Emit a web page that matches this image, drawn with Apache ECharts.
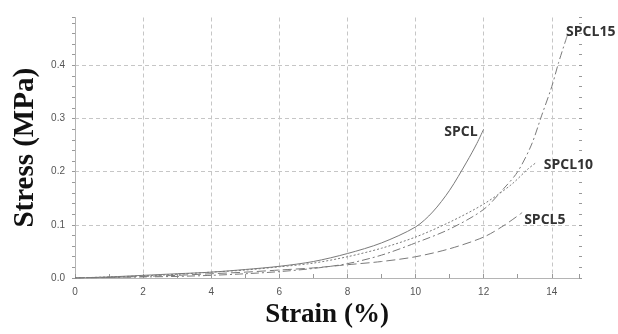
<!DOCTYPE html>
<html>
<head>
<meta charset="utf-8">
<script src="https://cdn.jsdelivr.net/npm/echarts@6/dist/echarts.min.js"></script>
<style>
	html, body { margin: 0; padding: 0; background: #fff; }
	#chart { width: 618px; height: 334px; }
</style>
</head>
<body>
<div id="chart"></div>
<script>
"use strict";

/*-----data-----*/
var seriesNames = ['SPCL', 'SPCL5', 'SPCL10', 'SPCL15'];

var spclStrain = [0, 1, 2, 3, 4, 5, 6, 7, 8, 9, 10, 10.5, 11, 11.5, 11.8, 12];
var spclStress = [0, 0.002, 0.005, 0.008, 0.011, 0.016, 0.022, 0.031, 0.046, 0.066, 0.096, 0.124, 0.165, 0.218, 0.253, 0.28];

var spcl5Strain = [0, 1, 2, 3, 4, 5, 6, 7, 8, 9, 10, 11, 12, 12.6, 13.13];
var spcl5Stress = [0, 0.001, 0.003, 0.005, 0.008, 0.011, 0.015, 0.019, 0.025, 0.031, 0.040, 0.055, 0.077, 0.099, 0.123];

var spcl10Strain = [0, 1, 2, 3, 4, 5, 6, 7, 8, 9, 10, 11, 12, 12.8, 13.3, 13.56];
var spcl10Stress = [0, 0.002, 0.004, 0.007, 0.011, 0.015, 0.021, 0.028, 0.040, 0.056, 0.077, 0.105, 0.139, 0.175, 0.205, 0.218];

var spcl15Strain = [0, 1, 2, 3, 4, 5, 6, 7, 8, 9, 10, 11, 12, 12.6, 13, 13.4, 13.7, 14, 14.2, 14.45];
var spcl15Stress = [0, 0.001, 0.002, 0.003, 0.005, 0.008, 0.012, 0.018, 0.027, 0.043, 0.066, 0.092, 0.129, 0.169, 0.2, 0.25, 0.305, 0.36, 0.405, 0.455];

var xTickLabels = ['0', '2', '4', '6', '8', '10', '12', '14'];
var yTickLabels = ['0.0', '0.1', '0.2', '0.3', '0.4'];

/*-----helpers-----*/
var labelFont = {
	fontFamily: '"Open Sans", sans-serif',
	fontWeight: 'bold',
	fontSize: 14,
	color: '#333'
};

function pairs(xs, ys, labelName, labelOpt) {
	var last = xs.length - 1;
	return xs.map(function (x, i) {
		if (i === last) {
			return {
				value: [x, ys[i]],
				label: Object.assign({ show: true, formatter: labelName }, labelFont, labelOpt)
			};
		}
		return [x, ys[i]];
	});
}

function curve(name, xs, ys, dash, labelOpt) {
	return {
		name: name,
		type: 'line',
		xAxisIndex: 0,
		yAxisIndex: 0,
		data: pairs(xs, ys, name, labelOpt),
		smooth: 0.3,
		symbol: 'circle',
		symbolSize: 0,
		showSymbol: true,
		showAllSymbol: true,
		label: { show: false },
		silent: true,
		lineStyle: { color: '#7a7a7a', width: 1, type: dash },
		z: 5
	};
}

/*-----chart-----*/
var chart = echarts.init(document.getElementById('chart'), null, { renderer: 'canvas' });

var gridLeft = 75, gridRight = 39;
var gridLine = { color: '#c6c6c6', width: 1, type: [4, 3] };
var tickColor = '#999';

var option = {
	animation: false,
	grid: { left: gridLeft, right: gridRight, top: 17.5, bottom: 50.4 },
	xAxis: [{
		type: 'value',
		position: 'bottom',
		min: 0,
		max: 14.8,
		interval: 2,
		axisLine: { show: true, lineStyle: { color: '#b4b4b4', width: 1 } },
		axisTick: { show: false },
		axisLabel: {
			margin: 9,
			fontSize: 10,
			color: '#555',
			fontFamily: '"Liberation Sans", Arial, sans-serif',
			showMaxLabel: false,
			formatter: function (v) { return xTickLabels[Math.round(v / 2)] || ''; }
		},
		splitLine: { show: true, showMinLine: false, showMaxLine: false, lineStyle: gridLine },
		name: 'Strain (%)',
		nameLocation: 'middle',
		nameGap: 24,
		nameTextStyle: {
			fontFamily: '"Liberation Serif", "Times New Roman", serif',
			fontWeight: 'bold',
			fontSize: 27,
			color: '#111'
		}
	}, {
		type: 'value',
		position: 'bottom',
		offset: 0,
		min: 0,
		max: 14.8,
		interval: 1,
		axisLine: { show: false },
		axisTick: { show: true, inside: true, length: 4, lineStyle: { color: tickColor } },
		axisLabel: { show: false },
		splitLine: { show: false }
	}],
	yAxis: [{
		type: 'value',
		position: 'left',
		min: 0,
		max: 0.49,
		interval: 0.1,
		axisLine: { show: true, lineStyle: { color: '#b4b4b4', width: 1 } },
		axisTick: { show: true, length: 3, lineStyle: { color: tickColor } },
		minorTick: { show: true, splitNumber: 5, length: 3, lineStyle: { color: tickColor } },
		axisLabel: {
			margin: 10,
			fontSize: 10,
			color: '#555',
			fontFamily: '"Liberation Sans", Arial, sans-serif',
			showMaxLabel: false,
			formatter: function (v) { return yTickLabels[Math.round(v * 10)] || ''; }
		},
		splitLine: { show: true, showMinLine: false, showMaxLine: false, lineStyle: gridLine },
		name: 'Stress (MPa)',
		nameLocation: 'middle',
		nameGap: 34,
		nameTextStyle: {
			fontFamily: '"Liberation Serif", "Times New Roman", serif',
			fontWeight: 'bold',
			fontSize: 29,
			color: '#111'
		}
	}, {
		// right-side axis moved onto the left axis line: its ticks point into the plot
		type: 'value',
		position: 'right',
		offset: -(618 - gridLeft - gridRight),
		min: 0,
		max: 0.49,
		interval: 0.02,
		axisLine: { show: false },
		axisTick: { show: true, length: 3, lineStyle: { color: tickColor } },
		axisLabel: { show: false },
		splitLine: { show: false }
	}],
	series: [
		curve(seriesNames[0], spclStrain, spclStress, 'solid', { position: 'left', distance: 6, offset: [0, 3] }),
		curve(seriesNames[1], spcl5Strain, spcl5Stress, [9, 4], { position: 'right', distance: 2, offset: [0, 7] }),
		curve(seriesNames[2], spcl10Strain, spcl10Stress, [2, 2], { position: 'right', distance: 7, offset: [0, 3] }),
		curve(seriesNames[3], spcl15Strain, spcl15Stress, [8, 3, 2, 3], { position: 'right', distance: 0, offset: [-1, -4] })
	]
};
chart.setOption(option);
window.addEventListener('resize', function () {
	chart.resize();
});
</script>
</body>
</html>
